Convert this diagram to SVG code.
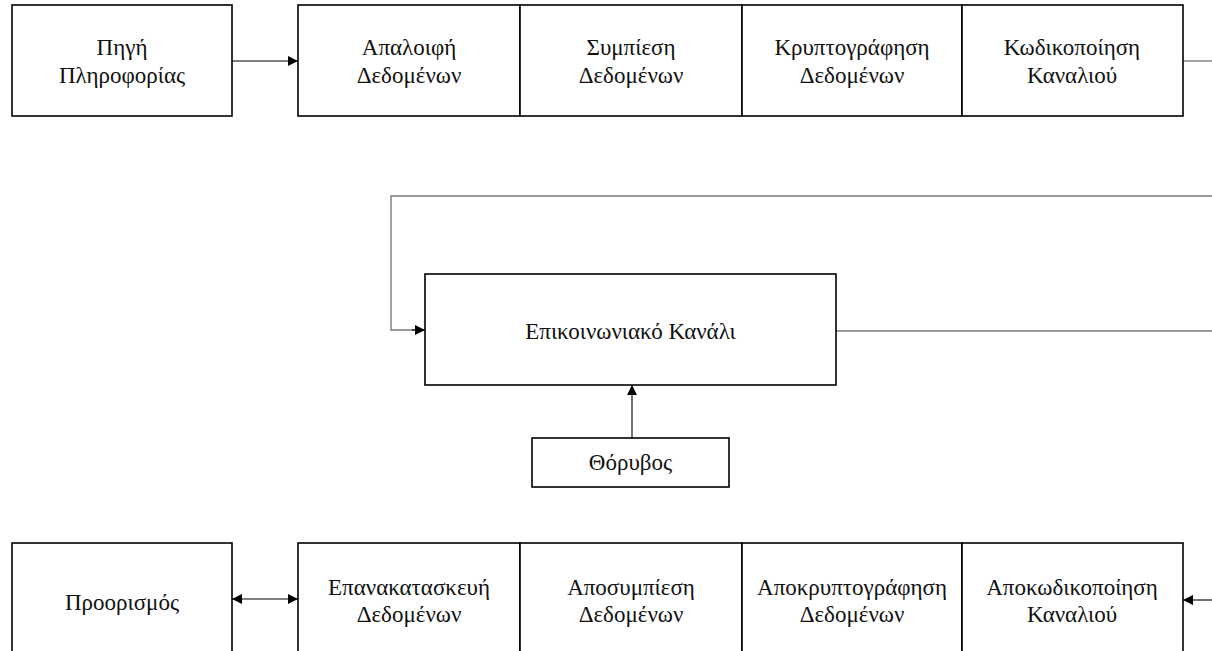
<svg xmlns="http://www.w3.org/2000/svg" width="1212" height="651" viewBox="0 0 1212 651">
  <style>
    .box { fill: #ffffff; stroke: #000000; stroke-width: 1.6; }
    .lbl { font-family: "Liberation Serif", "Times New Roman", serif; font-size: 23px; fill: #111111; text-anchor: middle; }
    .wire { fill: none; stroke: #000000; stroke-width: 1.1; }
    .gray { fill: none; stroke: #7a7a7a; stroke-width: 1.4; }
  </style>
  <defs>
    <marker id="arrow" viewBox="0 0 10 10" refX="10" refY="5" markerWidth="10" markerHeight="10" markerUnits="userSpaceOnUse" orient="auto-start-reverse">
      <path d="M0,0 L10,5 L0,10 Z" fill="#000000"/>
    </marker>
  </defs>

  <rect width="1212" height="651" fill="#ffffff"/>

  <!-- connectors -->
  <g id="connectors">
    <line class="wire" x1="232" y1="61" x2="298" y2="61" marker-end="url(#arrow)"/>
    <line class="gray" x1="1183" y1="61" x2="1212" y2="61"/>
    <polyline class="gray" points="1212,196 391,196 391,330 415,330"/>
    <line class="wire" x1="412" y1="330" x2="425" y2="330" marker-end="url(#arrow)"/>
    <line class="gray" x1="836" y1="331" x2="1212" y2="331"/>
    <line class="wire" x1="632" y1="438" x2="632" y2="385" marker-end="url(#arrow)"/>
    <line class="wire" x1="232" y1="599" x2="298" y2="599" marker-start="url(#arrow)" marker-end="url(#arrow)"/>
    <line class="wire" x1="1212" y1="600" x2="1183" y2="600" marker-end="url(#arrow)"/>
  </g>

  <!-- top row -->
  <g id="source">
    <rect class="box" x="12" y="5" width="220" height="111"/>
    <text class="lbl" x="122" y="55">Πηγή</text>
    <text class="lbl" x="122" y="83">Πληροφορίας</text>
  </g>
  <g id="dedup">
    <rect class="box" x="298" y="5" width="222" height="111"/>
    <text class="lbl" x="409" y="55">Απαλοιφή</text>
    <text class="lbl" x="409" y="83">Δεδομένων</text>
  </g>
  <g id="compress">
    <rect class="box" x="520" y="5" width="222" height="111"/>
    <text class="lbl" x="631" y="55">Συμπίεση</text>
    <text class="lbl" x="631" y="83">Δεδομένων</text>
  </g>
  <g id="encrypt">
    <rect class="box" x="742" y="5" width="220" height="111"/>
    <text class="lbl" x="852" y="55">Κρυπτογράφηση</text>
    <text class="lbl" x="852" y="83">Δεδομένων</text>
  </g>
  <g id="channel-encode">
    <rect class="box" x="962" y="5" width="221" height="111"/>
    <text class="lbl" x="1072" y="55">Κωδικοποίηση</text>
    <text class="lbl" x="1072" y="83">Καναλιού</text>
  </g>

  <!-- middle -->
  <g id="channel">
    <rect class="box" x="425" y="274" width="411" height="111"/>
    <text class="lbl" x="630.5" y="339">Επικοινωνιακό Κανάλι</text>
  </g>
  <g id="noise">
    <rect class="box" x="532" y="438" width="197" height="49"/>
    <text class="lbl" x="630.5" y="470">Θόρυβος</text>
  </g>

  <!-- bottom row -->
  <g id="destination">
    <rect class="box" x="12" y="543" width="220" height="120"/>
    <text class="lbl" x="122" y="610">Προορισμός</text>
  </g>
  <g id="reconstruct">
    <rect class="box" x="298" y="543" width="222" height="120"/>
    <text class="lbl" x="409" y="595">Επανακατασκευή</text>
    <text class="lbl" x="409" y="622">Δεδομένων</text>
  </g>
  <g id="decompress">
    <rect class="box" x="520" y="543" width="222" height="120"/>
    <text class="lbl" x="631" y="595">Αποσυμπίεση</text>
    <text class="lbl" x="631" y="622">Δεδομένων</text>
  </g>
  <g id="decrypt">
    <rect class="box" x="742" y="543" width="220" height="120"/>
    <text class="lbl" x="852" y="595">Αποκρυπτογράφηση</text>
    <text class="lbl" x="852" y="622">Δεδομένων</text>
  </g>
  <g id="channel-decode">
    <rect class="box" x="962" y="543" width="221" height="120"/>
    <text class="lbl" x="1072" y="595">Αποκωδικοποίηση</text>
    <text class="lbl" x="1072" y="622">Καναλιού</text>
  </g>
</svg>
